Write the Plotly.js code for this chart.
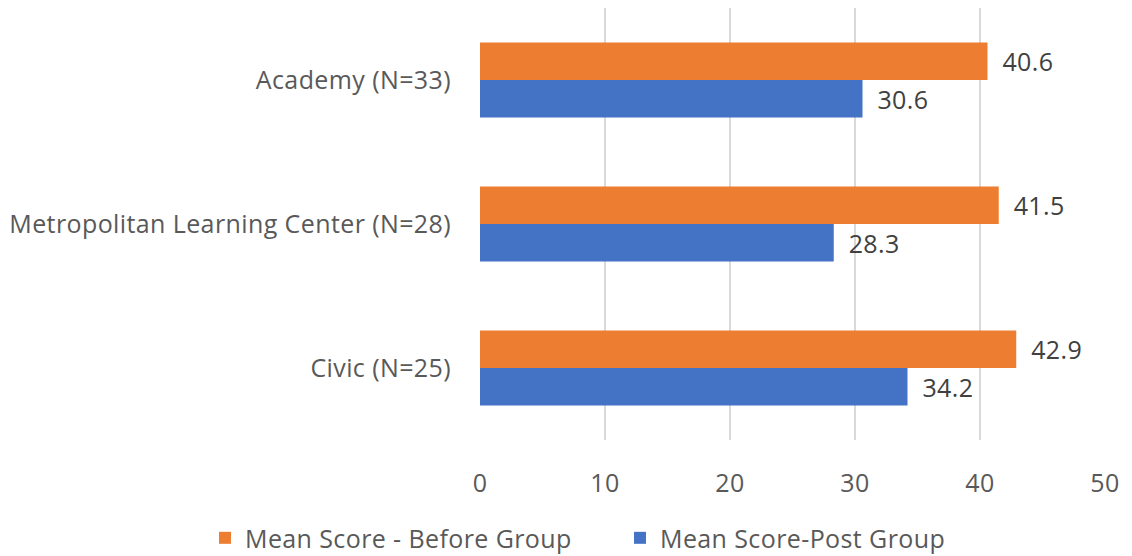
<!DOCTYPE html>
<html><head><meta charset="utf-8">
<script src="https://cdn.plot.ly/plotly-3.0.1.min.js"></script>
<style>body{margin:0;background:#fff}#c{width:1132px;height:556px}
#c svg text{letter-spacing:0.4px}</style>
</head><body><div id="c"></div>
<script>
const categories = ["Civic (N=25)", "Metropolitan Learning Center (N=28)", "Academy (N=33)"];
const beforeScores = [42.9, 41.5, 40.6];
const postScores = [34.2, 28.3, 30.6];
const xTicks = [0, 10, 20, 30, 40, 50];

const FONT = "'Open Sans', Lato, sans-serif";
const FS = 25;
const traces = [
  {type:'bar', orientation:'h', name:'Mean Score-Post Group', y:categories, x:postScores,
   marker:{color:'#4472C4'}, text:postScores.map(v=>v.toFixed(1)), texttemplate:'\u2002%{text}',
   textposition:'outside', cliponaxis:false, textfont:{size:FS,color:'#404040',family:FONT}, legendrank:2},
  {type:'bar', orientation:'h', name:'Mean Score - Before Group', y:categories, x:beforeScores,
   marker:{color:'#ED7D31'}, text:beforeScores.map(v=>v.toFixed(1)), texttemplate:'\u2002%{text}',
   textposition:'outside', cliponaxis:false, textfont:{size:FS,color:'#404040',family:FONT}, legendrank:1}
];
const layout = {
  width:1132, height:556,
  margin:{l:480, r:27, t:8, b:116, autoexpand:false},
  barmode:'group', bargap:0.48, bargroupgap:0,
  paper_bgcolor:'#fff', plot_bgcolor:'#fff',
  font:{family:FONT, size:FS, color:'#595959'},
  xaxis:{range:[0,50], tickvals:xTicks, showgrid:true, gridcolor:'#d9d9d9', gridwidth:2,
         zeroline:false, showline:false, ticks:'', ticklabelstandoff:26, fixedrange:true, automargin:false},
  yaxis:{type:'category', categoryorder:'array', categoryarray:categories, showgrid:false,
         zeroline:false, showline:false, ticks:'', ticklabelstandoff:28, automargin:false},
  showlegend:true,
  legend:{orientation:'h', x:-0.44, xanchor:'left', y:-0.227, yanchor:'middle',
          font:{size:FS, color:'#595959'}, itemwidth:30, entrywidth:370, tracegroupgap:0},
};
Plotly.newPlot('c', traces, layout, {displayModeBar:false, staticPlot:true});
</script></body></html>
